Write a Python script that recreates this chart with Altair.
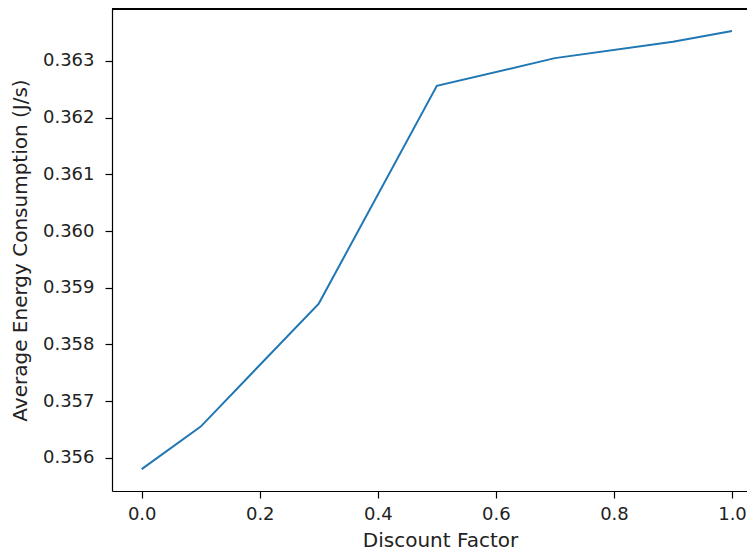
import altair as alt
import pandas as pd

x_vals = [0.0, 0.1, 0.3, 0.5, 0.7, 0.9, 1.0]
y_vals = [0.3558, 0.35655, 0.35872, 0.36256, 0.36305, 0.36334, 0.36353]
x_ticks = [0.0, 0.2, 0.4, 0.6, 0.8, 1.0]
y_ticks = [0.356, 0.357, 0.358, 0.359, 0.360, 0.361, 0.362, 0.363]

df = pd.DataFrame({"x": x_vals, "y": y_vals})

rng = max(y_vals) - min(y_vals)
y_dom = [min(y_vals) - 0.05 * rng, max(y_vals) + 0.05 * rng]

W = 635
H = 482
x_dom = [-0.0503, 1.0254]

line = alt.Chart(df).mark_line(color="#1f77b4", strokeWidth=2).encode(
    x=alt.X("x:Q",
            scale=alt.Scale(domain=x_dom, nice=False, zero=False),
            axis=alt.Axis(values=x_ticks, format=".1f", title="Discount Factor",
                          grid=False, labelBaseline="alphabetic", labelPadding=21,
                          titleBaseline="alphabetic", titleY=55, titleX=328,
                          titleAlign="center")),
    y=alt.Y("y:Q",
            scale=alt.Scale(domain=y_dom, nice=False, zero=False),
            axis=alt.Axis(values=y_ticks, format=".3f",
                          title="Average Energy Consumption (J/s)",
                          grid=False, labelPadding=11,
                          titleAngle=270, titleBaseline="middle", titleX=-92,
                          titleY=H / 2, titleAlign="center")),
)

top = alt.Chart(df).mark_rule(color="black", strokeWidth=1.2).encode(
    x=alt.value(0), x2=alt.value(W), y=alt.value(0)
)

chart = alt.layer(line, top).properties(
    width=W, height=H,
    autosize=alt.AutoSizeParams(type="none"),
    padding={"left": 104, "top": 1, "right": 0, "bottom": 60},
).configure_view(
    stroke=None
).configure_axis(
    domainColor="black", domainWidth=1.2, tickColor="black", tickWidth=1.2,
    tickSize=7, labelColor="#222222", titleColor="#222222",
    labelFont="DejaVu Sans", titleFont="DejaVu Sans",
    labelFontSize=18, titleFontSize=20, titleFontWeight="normal",
)

chart.save("out.html", embed_options={"renderer": "svg", "actions": False})
